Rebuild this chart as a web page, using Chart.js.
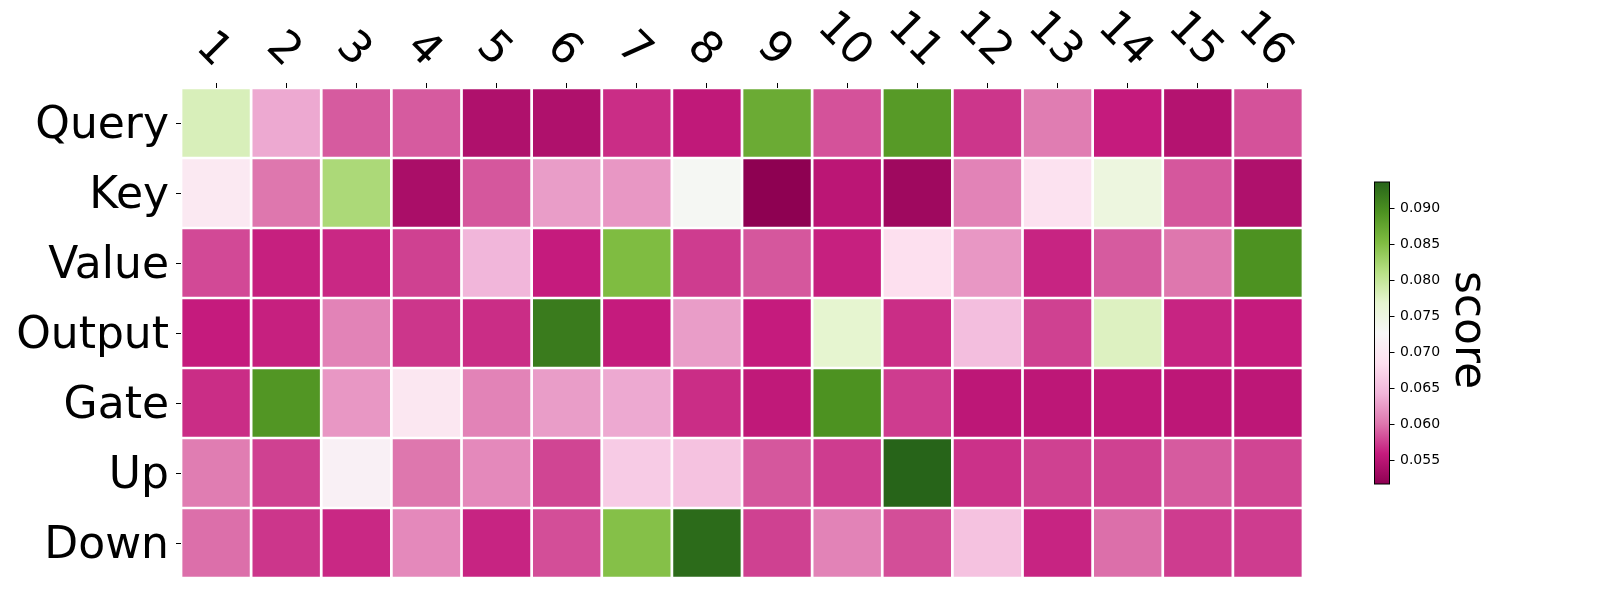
<!DOCTYPE html>
<html>
<head>
<meta charset="utf-8">
<script src="https://cdn.jsdelivr.net/npm/chart.js@4.4.1/dist/chart.umd.min.js"></script>
<style>
  html, body { margin: 0; padding: 0; background: #fff; }
  #wrap { width: 1600px; height: 600px; }
</style>
</head>
<body>
<div id="wrap"><canvas id="heat" width="1600" height="600"></canvas></div>
<script>
// --- DATA ---
const layers = ['1', '2', '3', '4', '5', '6', '7', '8', '9', '10', '11', '12', '13', '14', '15', '16'];
const modules = ['Query', 'Key', 'Value', 'Output', 'Gate', 'Up', 'Down'];

const query  = [0.0781, 0.0634, 0.0588, 0.0588, 0.0542, 0.0542, 0.0567, 0.0555, 0.0869, 0.0584, 0.0886, 0.0571, 0.0605, 0.0559, 0.0546, 0.0584];
const key    = [0.0701, 0.0601, 0.0819, 0.0538, 0.0586, 0.0626, 0.0622, 0.0731, 0.0517, 0.0551, 0.0530, 0.0609, 0.0689, 0.0752, 0.0586, 0.0542];
const value  = [0.0580, 0.0561, 0.0565, 0.0576, 0.0643, 0.0559, 0.0852, 0.0574, 0.0586, 0.0561, 0.0685, 0.0622, 0.0563, 0.0588, 0.0601, 0.0894];
const output = [0.0559, 0.0561, 0.0609, 0.0571, 0.0567, 0.0915, 0.0559, 0.0626, 0.0559, 0.0768, 0.0567, 0.0651, 0.0576, 0.0777, 0.0563, 0.0559];
const gate   = [0.0567, 0.0890, 0.0622, 0.0697, 0.0609, 0.0626, 0.0634, 0.0567, 0.0555, 0.0894, 0.0574, 0.0553, 0.0553, 0.0555, 0.0553, 0.0553];
const up     = [0.0605, 0.0576, 0.0714, 0.0601, 0.0613, 0.0578, 0.0664, 0.0655, 0.0586, 0.0574, 0.0936, 0.0569, 0.0576, 0.0576, 0.0588, 0.0578];
const down   = [0.0597, 0.0571, 0.0565, 0.0613, 0.0563, 0.0582, 0.0848, 0.0930, 0.0576, 0.0609, 0.0582, 0.0655, 0.0563, 0.0597, 0.0574, 0.0574];

const cbTicks = [0.055, 0.060, 0.065, 0.070, 0.075, 0.080, 0.085, 0.090];
const vMin = 0.0517, vMax = 0.0936;

const rows = [query, key, value, output, gate, up, down];

// --- COLORMAP (PiYG) ---
const PIYG = [[142,1,82],[197,27,125],[222,119,174],[241,182,218],[253,224,239],[247,247,247],
              [230,245,208],[184,225,134],[127,188,65],[77,146,33],[39,100,25]];
const piyg = (t) => {
    t = Math.min(1, Math.max(0, t)) * 10;
    const i = Math.min(9, Math.floor(t)), f = t - i;
    const c = PIYG[i].map((a, k) => Math.round(a + (PIYG[i + 1][k] - a) * f));
    return `rgb(${c.join(',')})`;
};
const colorOf = v => piyg((v - vMin) / (vMax - vMin));

const FONT = 'DejaVu Sans';
Chart.defaults.font.family = FONT;
Chart.defaults.color = '#000';

// rotated column labels above the grid
const topLabels = {
    id: 'topLabels',
    afterDraw(chart) {
        const ctx = chart.ctx, xs = chart.scales.x, size = 44;
        const base = chart.chartArea.top - 20;
        ctx.save();
        ctx.font = `${size}px "${FONT}"`;
        ctx.fillStyle = '#000';
        layers.forEach((lab, i) => {
            const x = xs.getPixelForValue(i);
            const w = ctx.measureText(lab).width;
            const half = (w + 0.73 * size) * Math.SQRT1_2 / 2;
            ctx.save();
            ctx.translate(x, base - half);
            ctx.rotate(Math.PI / 4);
            ctx.textAlign = 'center';
            ctx.textBaseline = 'alphabetic';
            ctx.fillText(lab, 0, 0.365 * size);
            ctx.restore();
        });
        ctx.restore();
    }
};

// colour bar on the right
const colorBar = {
    id: 'colorBar',
    afterDraw(chart) {
        const ctx = chart.ctx;
        const x0 = 1374.5, x1 = 1389.5, y0 = 182, y1 = 484;
        const toY = v => y1 - (v - vMin) / (vMax - vMin) * (y1 - y0);
        ctx.save();
        const g = ctx.createLinearGradient(0, y1, 0, y0);
        PIYG.forEach((c, i) => g.addColorStop(i / 10, `rgb(${c.join(',')})`));
        ctx.fillStyle = g;
        ctx.fillRect(x0, y0, x1 - x0, y1 - y0);
        ctx.strokeStyle = '#000';
        ctx.lineWidth = 1;
        ctx.strokeRect(x0, y0, x1 - x0, y1 - y0);
        ctx.font = `14px "${FONT}"`;
        ctx.fillStyle = '#000';
        ctx.textAlign = 'left';
        ctx.textBaseline = 'middle';
        cbTicks.forEach(v => {
            const y = Math.round(toY(v)) + 0.5;
            ctx.beginPath();
            ctx.moveTo(x1, y);
            ctx.lineTo(x1 + 5, y);
            ctx.stroke();
            ctx.fillText(v.toFixed(3), x1 + 10.5, y);
        });
        ctx.font = `44px "${FONT}"`;
        ctx.translate(1456, 330);
        ctx.rotate(Math.PI / 2);
        ctx.textAlign = 'center';
        ctx.textBaseline = 'alphabetic';
        ctx.fillText('score', 0, 0);
        ctx.restore();
    }
};

new Chart(document.getElementById('heat'), {
    type: 'bar',
    data: {
        labels: layers,
        datasets: modules.map((name, r) => ({
            label: name,
            data: layers.map(() => 1),
            scores: rows[r],
            backgroundColor: rows[r].map(colorOf),
            borderColor: '#fff',
            borderWidth: 1.7,
            borderSkipped: false,
            barPercentage: 1,
            categoryPercentage: 1
        }))
    },
    options: {
        responsive: false,
        animation: false,
        layout: { padding: { left: 0, top: 0, right: 297, bottom: 22 } },
        plugins: {
            legend: { display: false },
            tooltip: {
                callbacks: {
                    title: items => `Layer ${items[0].label}`,
                    label: c => `${c.dataset.label}: ${c.dataset.scores[c.dataIndex].toFixed(4)}`
                }
            }
        },
        scales: {
            x: {
                position: 'top',
                stacked: true,
                offset: true,
                grid: { offset: false, drawOnChartArea: false, tickLength: 5, tickColor: '#000' },
                border: { display: false },
                ticks: { display: false },
                afterFit: s => { s.height = 88; }
            },
            y: {
                type: 'linear',
                stacked: true,
                reverse: true,
                min: 0,
                max: 7,
                afterBuildTicks: s => { s.ticks = modules.map((_, i) => ({ value: i + 0.5 })); },
                grid: { drawOnChartArea: false, tickLength: 5, tickColor: '#000' },
                border: { display: false },
                ticks: {
                    padding: 7,
                    labelOffset: 4,
                    color: '#000',
                    font: { family: FONT, size: 44 },
                    callback: v => modules[Math.floor(v)]
                },
                afterFit: s => { s.width = 181; s.paddingTop = 0; s.paddingBottom = 0; }
            }
        }
    },
    plugins: [topLabels, colorBar]
});
</script>
</body>
</html>
